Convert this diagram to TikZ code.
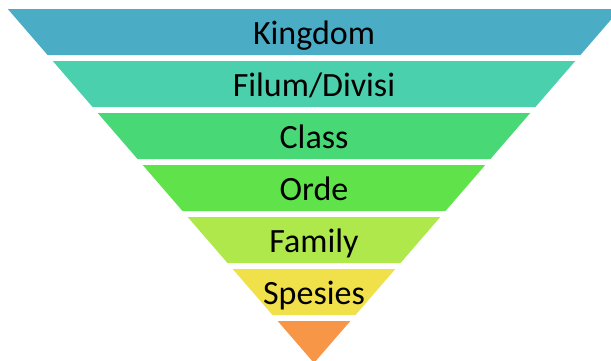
\documentclass[tikz,border=0pt]{standalone}
\usepackage{fontspec}
\setmainfont{Carlito}
\definecolor{kingdomcol}{HTML}{4BACC6}
\definecolor{filumcol}{HTML}{4BD0AE}
\definecolor{classcol}{HTML}{48D876}
\definecolor{ordecol}{HTML}{5FE24A}
\definecolor{familycol}{HTML}{AEE84A}
\definecolor{spesiescol}{HTML}{F0E04A}
\definecolor{tipcol}{HTML}{F79646}
\tikzset{
  rank/.style={anchor=base, text=black, inner sep=0pt, font=\fontsize{34}{40}\selectfont}
}
\begin{document}
\begin{tikzpicture}[x=1pt, y=-1pt]
        \pgfmathsetmacro{\c}{314};
        \pgfmathsetmacro{\s}{0.865};
        \useasboundingbox (0,0) rectangle (611,360);
        \clip (0,0) rectangle (611,360);
        \fill [kingdomcol] (\c-\s*354, 9) -- (\c+\s*354, 9) -- (\c+\s*308, 55) -- (\c-\s*308, 55) -- cycle;
        \fill [filumcol] (\c-\s*302, 61) -- (\c+\s*302, 61) -- (\c+\s*256, 107) -- (\c-\s*256, 107) -- cycle;
        \fill [classcol] (\c-\s*250, 113) -- (\c+\s*250, 113) -- (\c+\s*204, 159) -- (\c-\s*204, 159) -- cycle;
        \fill [ordecol] (\c-\s*198, 165) -- (\c+\s*198, 165) -- (\c+\s*152, 211) -- (\c-\s*152, 211) -- cycle;
        \fill [familycol] (\c-\s*146, 217) -- (\c+\s*146, 217) -- (\c+\s*100, 263) -- (\c-\s*100, 263) -- cycle;
        \fill [spesiescol] (\c-\s*94, 269) -- (\c+\s*94, 269) -- (\c+\s*48, 315) -- (\c-\s*48, 315) -- cycle;
        \fill [tipcol] (\c-\s*42, 321) -- (\c+\s*42, 321) -- (\c, 363) -- cycle;
        \node [rank] (kingdom) at (\c, 44) {Kingdom};
        \node [rank] (filum) at (\c, 96) {Filum/Divisi};
        \node [rank] (class) at (\c, 148) {Class};
        \node [rank] (orde) at (\c, 200) {Orde};
        \node [rank] (family) at (\c, 252) {Family};
        \node [rank] (spesies) at (\c, 304) {Spesies};
\end{tikzpicture}
\end{document}
